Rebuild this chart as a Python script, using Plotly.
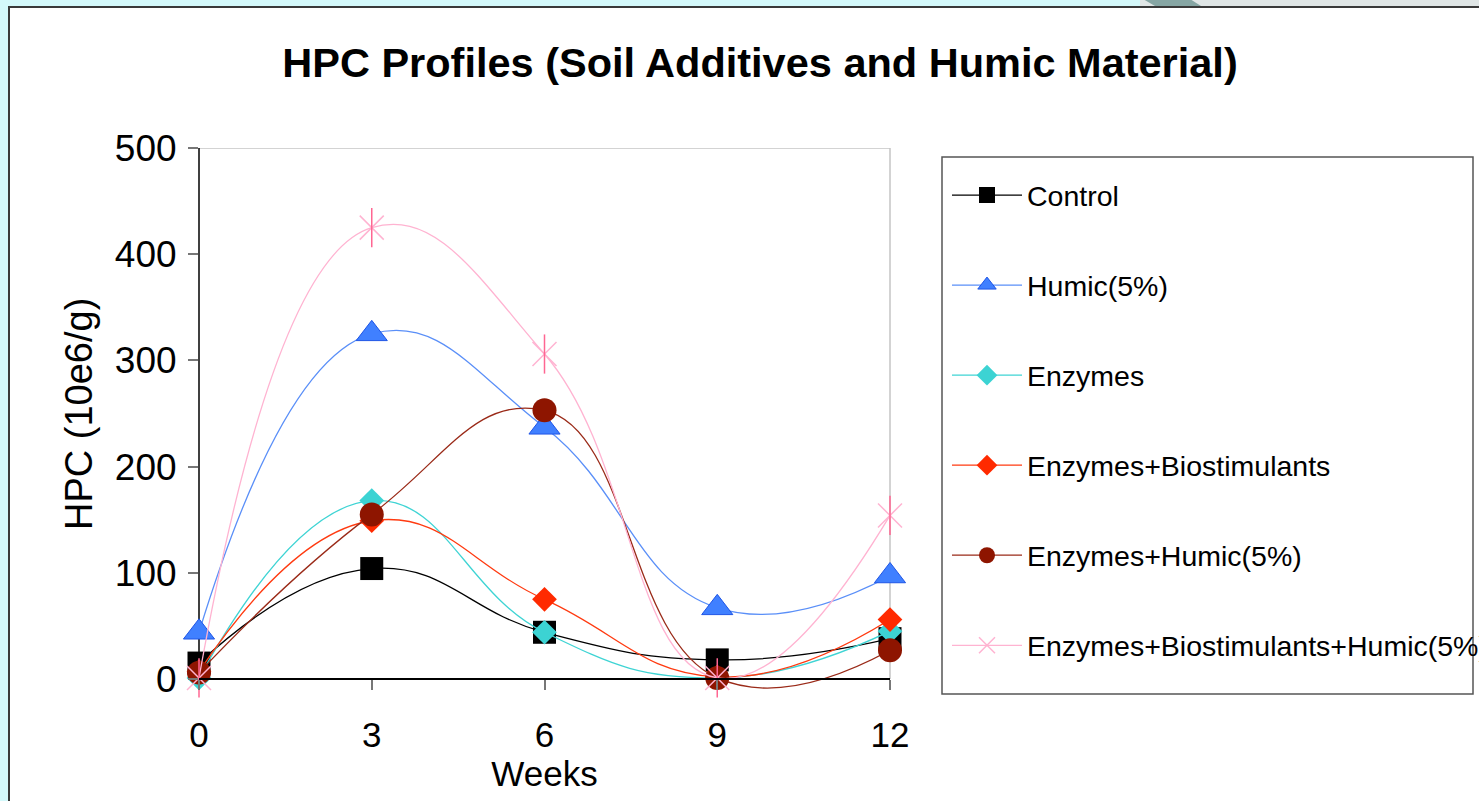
import plotly.graph_objects as go

weeks = [0, 3, 6, 9, 12]
control = [15, 104, 44, 18, 38]
humic = [44, 325, 237, 67, 97]
enzymes = [1, 168, 44, 1, 45]
enz_bio = [7, 149, 75, 2, 56]
enz_humic = [6, 155, 253, 1, 27]
enz_bio_humic = [1, 425, 306, 1, 154]

names = ["Control", "Humic(5%)", "Enzymes", "Enzymes+Biostimulants",
         "Enzymes+Humic(5%)", "Enzymes+Biostimulants+Humic(5%)"]
y_ticks = [0, 100, 200, 300, 400, 500]

FONT = "Liberation Sans, Arial, sans-serif"
BG = "#d4f9fb"

W, H = 1479, 801
L, R, T = 199, 890, 148
Y0_PX = 679          # pixel row of y = 0 (x axis line)
B = 699              # bottom of plotting area (room for curve dips below 0)
Y_MAX = 500
Y_MIN = -Y_MAX * (B - Y0_PX) / (Y0_PX - T)


def px_x(p):
    return (p - L) / (R - L)


def px_y(p):
    return (B - p) / (B - T)


series = [
    (names[0], control, "#000000", dict(symbol="square", size=23, color="#000000")),
    (names[1], humic, "#5a8ff8", dict(symbol="triangle-up", size=27, color="#4080ff",
                                        line=dict(color="#1f55e6", width=1))),
    (names[2], enzymes, "#3fd4d4", dict(symbol="diamond", size=19, color="#3cd3d3")),
    (names[3], enz_bio, "#ff3a10", dict(symbol="diamond", size=19, color="#ff2a00")),
    (names[4], enz_humic, "#9a2a18", dict(symbol="circle", size=24, color="#8e1500")),
    (names[5], enz_bio_humic, "#ffb3d1", dict(symbol="x-thin-open", size=24, color="#ffb3d1",
                                               line=dict(color="#ffb3d1", width=1.5))),
]

fig = go.Figure()
for i, (nm, vals, col, mk) in enumerate(series):
    fig.add_trace(go.Scatter(
        x=weeks, y=vals, name=nm, mode="lines+markers",
        line=dict(color=col, width=1.3, shape="spline", smoothing=1.3),
        marker=mk, cliponaxis=False, legendgroup=f"g{i}",
    ))
# vertical stroke of the asterisk marker
fig.add_trace(go.Scatter(
    x=weeks, y=enz_bio_humic, mode="markers", showlegend=False,
    marker=dict(symbol="line-ns-open", size=28, line=dict(color="#ffb3d1", width=1.5)),
    cliponaxis=False, hoverinfo="skip",
))

shapes = [
    # white slide panel
    dict(type="rect", xref="paper", yref="paper", x0=px_x(9), x1=px_x(1700),
         y0=px_y(1000), y1=px_y(7), fillcolor="white",
         line=dict(color="#3a3a3a", width=2), layer="below"),
    # top-right strip
    dict(type="rect", xref="paper", yref="paper", x0=px_x(1140), x1=px_x(1700),
         y0=px_y(6), y1=px_y(-5), fillcolor="#e0e6e6", line=dict(width=0), layer="below"),
    dict(type="path", xref="paper", yref="paper",
         path=f"M {px_x(1143)},{px_y(-1)} L {px_x(1190)},{px_y(-1)} L {px_x(1201)},{px_y(6)} L {px_x(1155)},{px_y(6)} Z",
         fillcolor="#86a6a4", line=dict(width=0), layer="below"),
    # legend box
    dict(type="rect", xref="paper", yref="paper", x0=px_x(942), x1=px_x(1473),
         y0=px_y(694), y1=px_y(157), fillcolor="white",
         line=dict(color="#555555", width=1.5), layer="below"),
    # top and right frame of plot area (gray), left axis line (black)
    dict(type="line", xref="paper", yref="y", x0=0, x1=1, y0=Y_MAX, y1=Y_MAX,
         line=dict(color="#c4c4c4", width=1.5), layer="below"),
    dict(type="line", xref="paper", yref="y", x0=1, x1=1, y0=0, y1=Y_MAX,
         line=dict(color="#c4c4c4", width=1.5), layer="below"),
    dict(type="line", xref="paper", yref="y", x0=0, x1=0, y0=0, y1=Y_MAX,
         line=dict(color="black", width=1.5), layer="below"),
]

annotations = [
    dict(text="HPC (10e6/g)", xref="paper", yref="paper",
         x=px_x(79), y=px_y(414), xanchor="center", yanchor="middle",
         textangle=-90, showarrow=False, font=dict(size=38, family=FONT, color="black")),
]

fig.update_layout(
    width=W, height=H,
    margin=dict(l=L, r=W - R, t=T, b=H - B, autoexpand=False),
    paper_bgcolor=BG, plot_bgcolor="rgba(0,0,0,0)",
    font=dict(family=FONT, color="black"),
    title=dict(text="<b>HPC Profiles (Soil Additives and Humic Material)</b>",
               font=dict(size=41.5, family=FONT, color="black"),
               xref="paper", x=px_x(760), xanchor="center",
               yref="container", y=1 - 62 / H, yanchor="middle"),
    xaxis=dict(range=[0, 12], tickvals=weeks, ticktext=[str(w) for w in weeks],
               anchor="free", position=px_y(Y0_PX),
               showgrid=False, zeroline=False, showline=True, linecolor="black", linewidth=1.5,
               ticks="outside", ticklen=10, tickcolor="#777777", tickwidth=1.5,
               tickfont=dict(size=35, family=FONT), ticklabelstandoff=15,
               title=dict(text="Weeks", font=dict(size=35, family=FONT), standoff=0)),
    yaxis=dict(range=[Y_MIN, Y_MAX], tickvals=y_ticks, showgrid=False, zeroline=False,
               showline=False,
               ticks="outside", ticklen=10, tickcolor="#777777", tickwidth=1.5,
               tickfont=dict(size=37, family=FONT), ticklabelstandoff=4),
    legend=dict(x=px_x(947), xanchor="left", y=px_y(170), yanchor="top",
                bgcolor="rgba(0,0,0,0)", borderwidth=0, font=dict(size=28.5, family=FONT),
                tracegroupgap=50, itemwidth=70, traceorder="grouped"),
    shapes=shapes,
    annotations=annotations,
    showlegend=True,
)

fig.write_html(
    "out.html",
    config={"displayModeBar": False},
    post_script=(
        "document.body.style.margin='0';"
        "document.body.style.overflow='hidden';"
        f"document.body.style.background='{BG}';"
    ),
)
